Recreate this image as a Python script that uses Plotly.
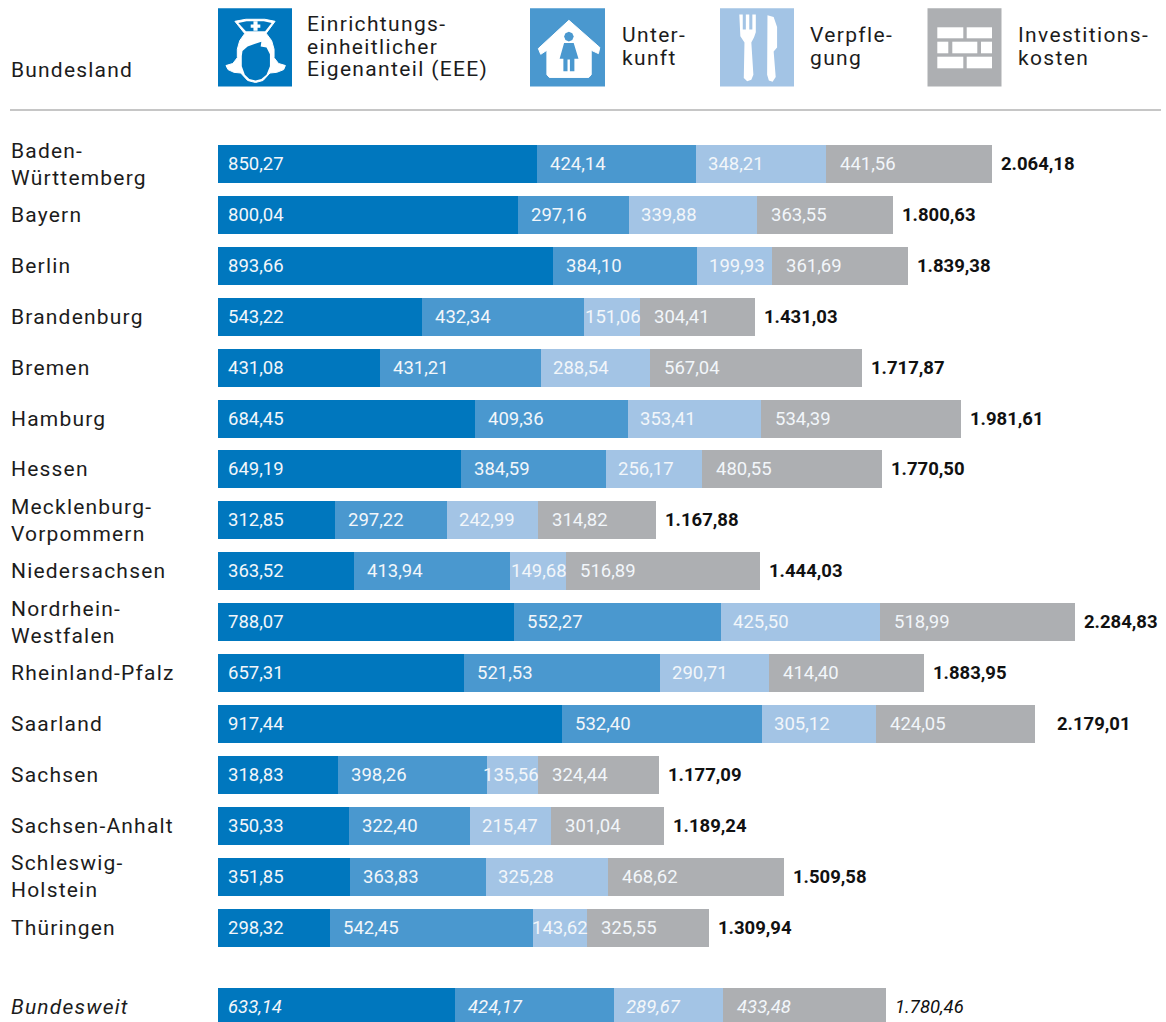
import plotly.graph_objects as go

states = ["Baden-<br>Württemberg", "Bayern", "Berlin", "Brandenburg", "Bremen", "Hamburg", "Hessen",
          "Mecklenburg-<br>Vorpommern", "Niedersachsen", "Nordrhein-<br>Westfalen", "Rheinland-Pfalz",
          "Saarland", "Sachsen", "Sachsen-Anhalt", "Schleswig-<br>Holstein", "Thüringen", "Bundesweit"]
eee = [850.27, 800.04, 893.66, 543.22, 431.08, 684.45, 649.19, 312.85, 363.52, 788.07, 657.31, 917.44, 318.83, 350.33, 351.85, 298.32, 633.14]
unterkunft = [424.14, 297.16, 384.10, 432.34, 431.21, 409.36, 384.59, 297.22, 413.94, 552.27, 521.53, 532.40, 398.26, 322.40, 363.83, 542.45, 424.17]
verpflegung = [348.21, 339.88, 199.93, 151.06, 288.54, 353.41, 256.17, 242.99, 149.68, 425.50, 290.71, 305.12, 135.56, 215.47, 325.28, 143.62, 289.67]
invest = [441.56, 363.55, 361.69, 304.41, 567.04, 534.39, 480.55, 314.82, 516.89, 518.99, 414.40, 424.05, 324.44, 301.04, 468.62, 325.55, 433.48]
totals = [2064.18, 1800.63, 1839.38, 1431.03, 1717.87, 1981.61, 1770.50, 1167.88, 1444.03, 2284.83, 1883.95, 2179.01, 1177.09, 1189.24, 1509.58, 1309.94, 1780.46]
series_names = ["Einrichtungs-<br>einheitlicher<br>Eigenanteil (EEE)", "Unter-<br>kunft", "Verpfle-<br>gung", "Investitions-<br>kosten"]
colors = ["#0077be", "#4a98cf", "#a3c4e5", "#adafb2"]

W, H = 1166, 1022
FONT = "Roboto"
INK = "#1c1c1c"
X0, PXU = 218, 0.375
ROW0, PITCH = 164, 50.9
GAP_ROWS = 0.57
SERIES_SHIFT = [8, 11, 10, 12]
row_pos = [i if i < len(states) - 1 else i + GAP_ROWS for i in range(len(states))]


def de(v):
    return f"{v:,.2f}".replace(",", "X").replace(".", ",").replace("X", ".")


def italic(i, s):
    return f"<i>{s}</i>" if i == len(states) - 1 else s


fig = go.Figure()
all_series = [eee, unterkunft, verpflegung, invest]
for vals, c, n in zip(all_series, colors, series_names):
    fig.add_trace(go.Bar(y=row_pos, x=vals, orientation="h", width=38 / PITCH, marker=dict(color=c, line_width=0),
                         name=n.replace("<br>", " "), showlegend=False, hoverinfo="x+name"))

ann = []
spaced = []


def add_spaced(spacing, **kw):
    spaced.append((len(ann), spacing))
    ann.append(dict(showarrow=False, xanchor="left", yanchor="middle", align="left", **kw))


for i, st in enumerate(states):
    add_spaced(1.2, x=9 / W, xref="paper", y=row_pos[i], yref="y", text=italic(i, st),
               font=dict(family=FONT, size=21, color=INK))
    left = 0
    for k, vals in enumerate(all_series):
        v = vals[i]
        w = v * PXU
        shift = SERIES_SHIFT[k] if w >= 65 else w - 57
        ann.append(dict(x=left, y=row_pos[i], xref="x", yref="y", text=italic(i, de(v)), showarrow=False, xanchor="left",
                        yanchor="middle", align="left", xshift=shift, font=dict(family=FONT, size=18.5, color="#f2f6fa")))
        left += v
    extra = 13 if st == "Saarland" else 0
    ann.append(dict(x=totals[i], y=row_pos[i], xref="x", yref="y",
                    text=italic(i, de(totals[i]) if i == len(states) - 1 else f"<b>{de(totals[i])}</b>"), showarrow=False,
                    xanchor="left", yanchor="middle", align="left", xshift=7 + extra,
                    font=dict(family=FONT, size=18.5, color="#111111")))

add_spaced(1.2, x=9 / W, y=1 - 70 / H, xref="paper", yref="paper", text="Bundesland",
           font=dict(family=FONT, size=21, color=INK))

squares = [(218, 292), (530, 605), (720, 794), (927.5, 1001.5)]
text_x = [305, 620, 808, 1016]
for n, tx in zip(series_names, text_x):
    lines = n.split("<br>")
    for j, line in enumerate(lines):
        yc = 46.5 + (j - (len(lines) - 1) / 2) * 22.5
        add_spaced(1.35, x=tx / W, y=1 - yc / H, xref="paper", yref="paper", text=line,
                   font=dict(family=FONT, size=21, color=INK))


def px(x):
    return x / W


def py(y):
    return 1 - y / H


def rect(x0, y0, x1, y1, color):
    return dict(type="rect", xref="paper", yref="paper", x0=px(x0), x1=px(x1), y0=py(y0), y1=py(y1), fillcolor=color,
                line_width=0, layer="above")


def poly(points, color, ox=0, oy=0, sx=1.0, sy=1.0, stroke=0):
    d = "M " + " L ".join(f"{px(ox + x * sx):.5f},{py(oy + y * sy):.5f}" for x, y in points) + " Z"
    return dict(type="path", xref="paper", yref="paper", path=d, fillcolor=color, line=dict(width=stroke, color=color), layer="above")


def icon(points, color, ox, stroke=0):
    # icon outlines are sketched on a 3x grid of the 80x85 icon box
    return poly(points, color, ox=ox, oy=5, sx=1.03 / 3, sy=1.02 / 3, stroke=stroke)


shapes = [dict(type="line", xref="paper", yref="paper", x0=px(10), x1=px(1161), y0=py(110), y1=py(110),
               line=dict(color="#b3b3b3", width=1.6))]
for (a, b), c in zip(squares, colors):
    shapes.append(rect(a, 8.3, b, 86.5, c))

W_ = "white"
B_ = colors[0]
H_ = colors[1]
NX, HX, CX = 215, 527, 717
# nurse icon
shapes += [
    icon([(58, 48), (90, 42), (145, 42), (175, 48), (150, 82), (85, 82)], W_, NX, 1),
    icon([(68, 53), (92, 48), (142, 48), (165, 53), (146, 77), (90, 77)], B_, NX),
    icon([(112, 48), (124, 48), (124, 57), (132, 57), (132, 67), (124, 67), (124, 76), (112, 76), (112, 67), (104, 67), (104, 57), (112, 57)], W_, NX),
    icon([(88, 82), (148, 82), (165, 105), (172, 130), (172, 155), (185, 172), (205, 178), (200, 190), (180, 198), (160, 200),
          (140, 222), (118, 228), (95, 222), (75, 200), (55, 198), (38, 190), (32, 178), (52, 172), (65, 155), (65, 130), (72, 105)], W_, NX, 1),
    icon([(80, 135), (95, 122), (115, 115), (135, 108), (133, 122), (150, 125), (160, 145), (160, 180), (150, 205), (135, 218),
          (118, 222), (100, 218), (87, 205), (78, 180), (78, 150)], B_, NX),
]
# house icon
shapes += [
    icon([(122, 45), (212, 125), (208, 143), (187, 133), (187, 205), (180, 213), (65, 213), (58, 205), (58, 133), (40, 145), (33, 128)], W_, HX, 1),
    icon([(122, 79), (132, 83), (136, 93), (132, 103), (122, 107), (112, 103), (108, 93), (112, 83)], H_, HX),
    icon([(108, 112), (136, 112), (150, 158), (138, 158), (138, 195), (125, 195), (125, 160), (118, 160), (118, 195), (106, 195), (106, 158), (95, 158)], H_, HX),
]
# cutlery icon
shapes += [
    icon([(65, 28), (75, 28), (75, 72), (84, 72), (84, 28), (94, 28), (94, 72), (103, 72), (103, 28), (113, 28), (113, 80), (108, 95),
          (100, 110), (106, 205), (100, 220), (88, 224), (78, 215), (80, 110), (68, 92)], W_, CX),
    icon([(147, 30), (165, 35), (175, 65), (175, 125), (165, 137), (171, 212), (162, 226), (151, 222), (146, 205)], W_, CX),
]
# brick icon
for y0, y1, xs in [(27.3, 38.3, [(937.3, 963.3), (966.7, 992)]), (41.7, 53.3, [(937.3, 948.3), (952.3, 977.3), (981, 992)]),
                   (56.7, 68.3, [(937.3, 963.3), (966.7, 992)])]:
    for a, b in xs:
        shapes.append(rect(a, y0, b, y1, W_))

fig.update_layout(
    width=W, height=H, autosize=False, margin=dict(l=0, r=0, t=0, b=0), barmode="stack", bargap=0,
    paper_bgcolor="white", plot_bgcolor="white", showlegend=False, annotations=ann, shapes=shapes,
    xaxis=dict(range=[-X0 / PXU, (W - X0) / PXU], visible=False, fixedrange=True),
    yaxis=dict(range=[(H - ROW0) / PITCH, -ROW0 / PITCH], visible=False, fixedrange=True),
)
css = "".join(f'.annotation[data-index="{k}"] text{{letter-spacing:{s}px}}' for k, s in spaced)
post = ("document.body.style.margin='0';document.body.style.overflow='hidden';"
        "var st=document.createElement('style');st.textContent=" + repr(css) + ";document.head.appendChild(st);")
fig.write_html("out.html", config=dict(displayModeBar=False), post_script=post)
